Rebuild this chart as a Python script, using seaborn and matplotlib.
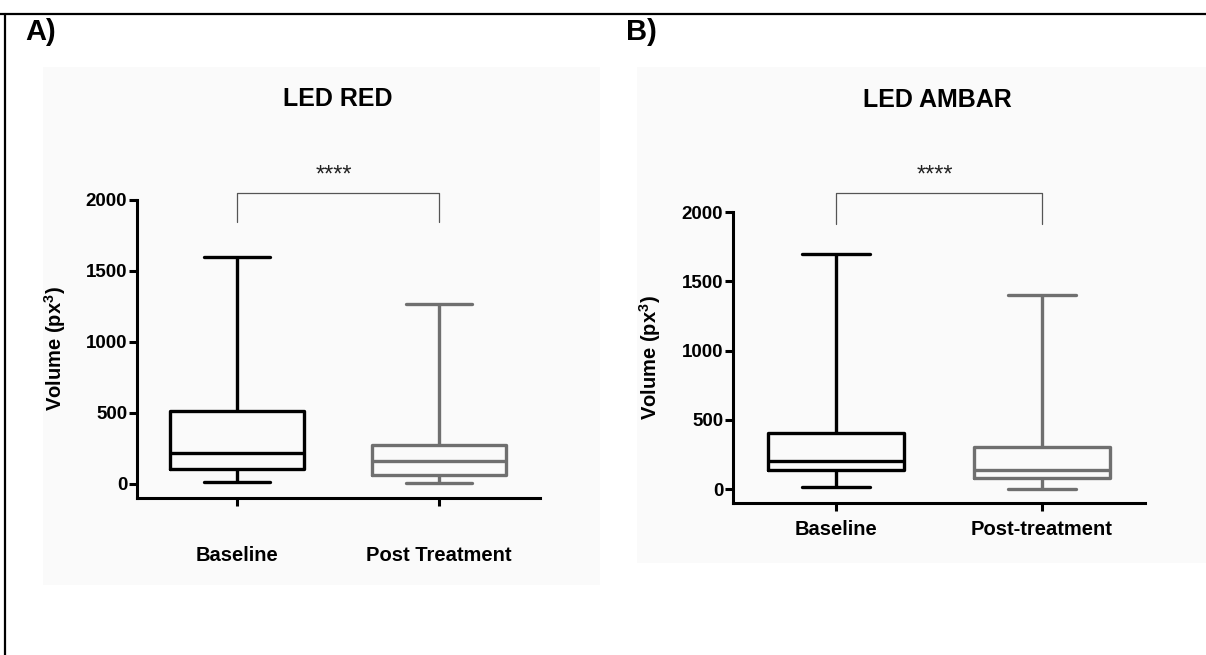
import matplotlib
matplotlib.use("Agg")
import matplotlib.pyplot as plt
import seaborn as sns
import pandas as pd
from matplotlib.patches import Rectangle
from matplotlib.lines import Line2D

# ---- data (five-number summaries: min, Q1, median, Q3, max)
groups_red = ["Baseline", "Post Treatment"]
red_baseline = [15, 108, 220, 515, 1595]
red_post = [5, 60, 162, 272, 1268]

groups_ambar = ["Baseline", "Post-treatment"]
ambar_baseline = [12, 135, 203, 405, 1700]
ambar_post = [2, 77, 138, 300, 1403]

yticks = [0, 500, 1000, 1500, 2000]
titles = ["LED RED", "LED AMBAR"]
panel_labels = ["A)", "B)"]
sig_label = "****"

sns.set_theme(style="white")
plt.rcParams["font.family"] = ["Liberation Sans", "DejaVu Sans"]
plt.rcParams["mathtext.fontset"] = "custom"
plt.rcParams["mathtext.bf"] = "Liberation Sans:bold"
plt.rcParams["mathtext.rm"] = "Liberation Sans"
for k in ["text.color", "axes.labelcolor", "xtick.color", "ytick.color"]:
    plt.rcParams[k] = "black"

W, H = 1206, 655
fig = plt.figure(figsize=(W / 100, H / 100), dpi=100)
fig.patch.set_facecolor("white")

def fx(px):
    return px / W

def fy(py):
    return 1 - py / H

# panel backgrounds
fig.patches.append(Rectangle((fx(43), fy(585)), fx(600 - 43), (585 - 67) / H,
                             transform=fig.transFigure, facecolor="#fafafa",
                             edgecolor="none", zorder=-10))
fig.patches.append(Rectangle((fx(637), fy(563)), fx(1206 - 637), (563 - 67) / H,
                             transform=fig.transFigure, facecolor="#fafafa",
                             edgecolor="none", zorder=-10))
# frame lines
fig.add_artist(Line2D([0, 1], [fy(14), fy(14)], transform=fig.transFigure,
                      color="black", lw=1.6))
fig.add_artist(Line2D([fx(5), fx(5)], [fy(14), 0], transform=fig.transFigure,
                      color="black", lw=1.6))

colors = ["#000000", "#6f6f6f"]

specs = [
    dict(groups=groups_red, vals=[red_baseline, red_post],
         rect=[fx(137), fy(498), fx(540 - 137), (498 - 200) / H],
         ylim=(-99, 2000), xlim=(-0.495, 1.5), xpad=29,
         bracket=(2049, 1845), star_y=2175, title_xy=(338, 99),
         label_xy=(25, 32), ylab_x=-0.17),
    dict(groups=groups_ambar, vals=[ambar_baseline, ambar_post],
         rect=[fx(733), fy(503), fx(1145 - 733), (503 - 212) / H],
         ylim=(-101, 2000), xlim=(-0.5, 1.5), xpad=6.5,
         bracket=(2138, 1913), star_y=2265, title_xy=(937, 100),
         label_xy=(626, 32), ylab_x=-0.17),
]

for i, s in enumerate(specs):
    ax = fig.add_axes(s["rect"])
    ax.set_facecolor("none")
    df = pd.DataFrame({
        "group": [g for g, v in zip(s["groups"], s["vals"]) for _ in v],
        "value": [x for v in s["vals"] for x in v],
    })
    sns.boxplot(data=df, x="group", y="value", hue="group", order=s["groups"],
                hue_order=s["groups"], palette=dict(zip(s["groups"], colors)),
                whis=(0, 100), width=0.66, linewidth=2.4, fill=False,
                legend=False, ax=ax)
    ax.set_ylim(*s["ylim"])
    ax.set_xlim(*s["xlim"])
    ax.set_yticks(yticks)
    ax.set_yticklabels([str(t) for t in yticks], fontsize=13.5, fontweight="bold")
    for lab in ax.get_xticklabels():
        lab.set_fontsize(14.5)
        lab.set_fontweight("bold")
    ax.set_xlabel("")
    ax.set_ylabel(r"Volume (px$^\mathbf{3}$)", fontsize=14.5, fontweight="bold")
    ax.yaxis.set_label_coords(s["ylab_x"], 0.5)
    for side in ["top", "right"]:
        ax.spines[side].set_visible(False)
    for side in ["left", "bottom"]:
        ax.spines[side].set_linewidth(2.2)
        ax.spines[side].set_color("black")
    ax.tick_params(axis="y", direction="out", length=5.5, width=2.2, pad=1.5,
                   left=True, colors="black")
    ax.tick_params(axis="x", direction="out", length=5.5, width=2.2,
                   pad=s["xpad"], bottom=True, colors="black")
    # significance bracket
    top, end = s["bracket"]
    ax.plot([0, 0, 1, 1], [end, top, top, end], color="#555555", lw=0.9,
            clip_on=False)
    ax.text(0.48, s["star_y"], sig_label, ha="center", va="center",
            fontsize=17, color="#222222")
    tx, ty = s["title_xy"]
    fig.text(fx(tx), fy(ty), titles[i], ha="center", va="center",
             fontsize=18, fontweight="bold")
    lx, ly = s["label_xy"]
    fig.text(fx(lx), fy(ly), panel_labels[i], ha="left", va="center",
             fontsize=21, fontweight="bold")

fig.savefig("out.png", dpi=100)
